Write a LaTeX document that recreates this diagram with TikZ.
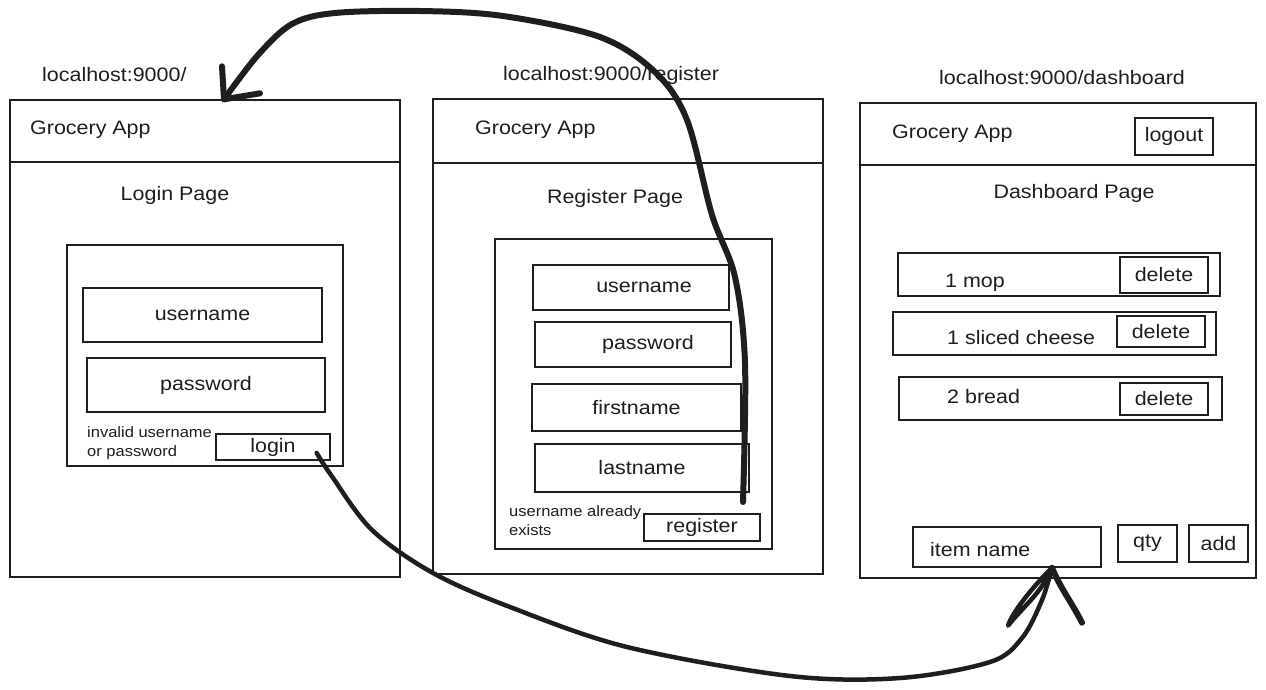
\documentclass[tikz,border=0pt]{standalone}
\usepackage{fontspec}
\setmainfont[FakeStretch=1.1]{Liberation Sans}
\usetikzlibrary{calc}
\definecolor{ink}{HTML}{1E1E1E}
\newcommand\bx[6]{\node[box, minimum width={(#4-#2)*1pt}, minimum height={(#5-#3)*1pt}] (#1) at ({(#2+#4)/2},{(#3+#5)/2}) {#6};}
\begin{document}
\begin{tikzpicture}[x=1pt,y=-1pt,
  box/.style={draw=ink, line width=1.4pt, inner sep=0pt, rectangle, text=ink, font=\fontsize{19.5}{22}\selectfont},
  lbl/.style={text=ink, inner sep=0pt, font=\fontsize{19.5}{22}\selectfont},
  small/.style={text=ink, inner sep=0pt, align=left, font=\fontsize{15}{19}\selectfont},
  wire/.style={draw=ink, line width=6pt, line cap=round, line join=round},
  wiretwo/.style={draw=ink, line width=4.5pt, line cap=round, line join=round}]
\useasboundingbox[fill=white] (0,0) rectangle (1266,689);

% ---------- Login page ----------
\bx{lframe}{10}{100}{400}{577}{}
\bx{lhead}{10}{100}{400}{162}{}
\node[lbl, anchor=west] (lurl) at (42,75) {localhost:9000/};
\node[lbl, anchor=west] (lapp) at (30,130) {Grocery App};
\node[lbl] (ltitle) at (175,195) {Login Page};
\bx{lform}{67}{245}{343}{466}{}
\bx{luser}{83}{288}{322}{342}{username}
\bx{lpass}{87}{358}{325}{412}{password}
\node[small, anchor=west] (lerr) at (87,443) {invalid username\\or password};
\bx{lbtn}{216}{434}{330}{460}{login}

% ---------- Register page ----------
\bx{rframe}{433}{99}{823}{574}{}
\bx{rhead}{433}{99}{823}{163}{}
\node[lbl, anchor=west] (rurl) at (503,75) {localhost:9000/register};
\node[lbl, anchor=west] (rapp) at (475,130) {Grocery App};
\node[lbl] (rtitle) at (615,198) {Register Page};
\bx{rform}{495}{239}{772}{549}{}
\bx{ruser}{533}{265}{729}{310}{\hspace*{26pt}username}
\bx{rpass}{535}{322}{731}{367}{\hspace*{30pt}password}
\bx{rfirst}{532}{384}{741}{431}{firstname}
\bx{rlast}{535}{444}{749}{492}{lastname}
\node[small, anchor=west] (rerr) at (509,521) {username already\\exists};
\bx{rbtn}{644}{514}{760}{541}{register}

% ---------- Dashboard page ----------
\bx{dframe}{860}{103}{1256}{578}{}
\bx{dhead}{860}{103}{1256}{165}{}
\node[lbl, anchor=west] (durl) at (939,78) {localhost:9000/dashboard};
\node[lbl, anchor=west] (dapp) at (892,134) {Grocery App};
\bx{dlogout}{1135}{118}{1213}{155}{logout}
\node[lbl] (dtitle) at (1074,193) {Dashboard Page};
\bx{row1}{898}{253}{1220}{296}{}
\node[lbl, anchor=west] (item1) at (945,283) {1 mop};
\bx{del1}{1120}{257}{1208}{293}{delete}
\bx{row2}{893}{312}{1216}{355}{}
\node[lbl, anchor=west] (item2) at (947,338) {1 sliced cheese};
\bx{del2}{1117}{316}{1205}{347}{delete}
\bx{row3}{899}{377}{1222}{420}{}
\node[lbl, anchor=west] (item3) at (947,397) {2 bread};
\bx{del3}{1120}{383}{1208}{415}{delete}
\bx{itemname}{913}{527}{1101}{567}{}
\node[lbl, anchor=west] (itemtxt) at (930,550) {item name};
\bx{qty}{1118}{525}{1177}{562}{qty}
\bx{add}{1189}{525}{1248}{562}{add}

% ---------- connectors ----------
\coordinate (a1s) at (743,502);
\coordinate (t1) at ([xshift=19pt]lhead.north);
\draw[wire] plot[smooth, tension=0.55] coordinates {(a1s) (745,363) (735,277) (712,215) (687,120) (655,72) (600,37) (503,16) (420,11) (335,13) (292,24) (258,55) (t1)};
\draw[wire] ($(t1)+(-2,-33)$) -- (t1) -- ($(t1)+(36,-6)$);

\coordinate (a2s) at ([xshift=-14pt,yshift=-6pt]lbtn.east);
\coordinate (t2) at ([xshift=45pt]itemname.south);
\draw[wiretwo] plot[smooth, tension=0.55] coordinates {(a2s) (331,475) (372,530) (433,573) (510,607) (627,647) (790,676) (900,678) (990,662) (1022,638) (1042,600) (t2)};
\draw[wiretwo] (t2) .. controls ($(t2)+(-20,20)$) and ($(t2)+(-40,45)$) .. ($(t2)+(-44,58)$) .. controls ($(t2)+(-30,40)$) and ($(t2)+(-10,25)$) .. (t2);
\draw[wire] (t2) .. controls ($(t2)+(8,20)$) and ($(t2)+(20,35)$) .. ($(t2)+(30,55)$);
\end{tikzpicture}
\end{document}
